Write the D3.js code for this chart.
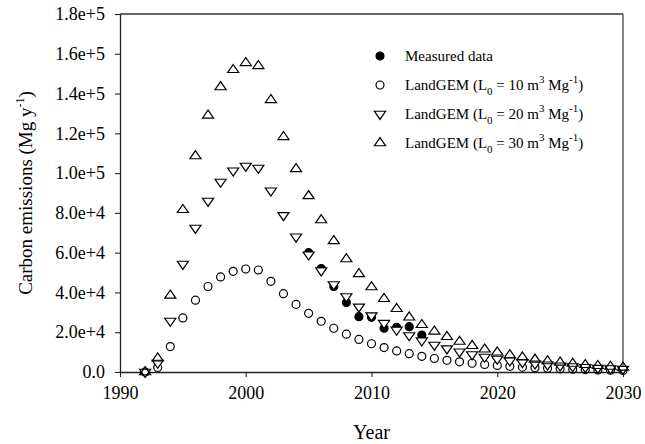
<!DOCTYPE html>
<html>
<head>
<meta charset="utf-8">
<script src="https://cdn.jsdelivr.net/npm/d3@7/dist/d3.min.js"></script>
<style>
  html, body { margin: 0; padding: 0; background: #fff; }
  svg { display: block; }
  text { font-family: "Liberation Serif", "Times New Roman", serif; fill: #000; }
</style>
</head>
<body>
<svg id="chart" width="645" height="444"></svg>
<script>
// ---- Data ----
const years = d3.range(1992, 2031); // 1992..2030

const landgem10 = [0, 2300, 12800, 27200, 36100, 43000, 47800, 50600, 51800, 51300,
  45600, 39400, 34000, 29500, 25500, 22000, 19000, 16400, 14200, 12300,
  10600, 9200, 7900, 6800, 5900, 5100, 4400, 3800, 3300, 2850,
  2450, 2100, 1850, 1600, 1400, 1200, 1000, 900, 760];

const landgem20 = [0, 4600, 25700, 54300, 72400, 86000, 95600, 101200, 103600, 102600,
  91200, 78800, 68000, 59000, 51000, 44000, 38000, 32800, 28400, 24600,
  21200, 18400, 15800, 13600, 11800, 10200, 8800, 7600, 6600, 5700,
  4900, 4200, 3700, 3200, 2800, 2400, 2000, 1800, 1500];

const landgem30 = [0, 6900, 38500, 81500, 108600, 129000, 143300, 151900, 155400, 153900,
  136800, 118200, 102100, 88500, 76400, 65900, 56800, 49300, 42700, 36800,
  31800, 27500, 23700, 20400, 17700, 15300, 13200, 11400, 9900, 8500,
  7400, 6300, 5500, 4800, 4200, 3600, 3100, 2700, 2300];

const measuredYears = [2005, 2006, 2007, 2008, 2009, 2010, 2011, 2012, 2013, 2014];
const measured = [60000, 52000, 43000, 35000, 27800, 27500, 22000, 22500, 22800, 18600];

const xTicks = [1990, 2000, 2010, 2020, 2030];
const yTicks = [0, 20000, 40000, 60000, 80000, 100000, 120000, 140000, 160000, 180000];
const yTickLabels = ["0.0", "2.0e+4", "4.0e+4", "6.0e+4", "8.0e+4", "1.0e+5", "1.2e+5", "1.4e+5", "1.6e+5", "1.8e+5"];

// ---- Layout ----
const L = 120, R = 623, T = 14, B = 372;
const svg = d3.select("#chart");

const x = d3.scaleLinear().domain([1990, 2030]).range([L, R]);
const y = d3.scaleLinear().domain([0, 180000]).range([B, T]);

const axisColor = "#222";

// frame (top & right)
svg.append("line").attr("x1", L).attr("x2", R).attr("y1", T).attr("y2", T)
  .attr("stroke", "#333").attr("stroke-width", 1.3);
svg.append("line").attr("x1", R).attr("x2", R).attr("y1", T).attr("y2", B)
  .attr("stroke", "#444").attr("stroke-width", 1.3);

// axes
const xAxis = d3.axisBottom(x).tickValues(xTicks).tickFormat(d3.format("d"))
  .tickSizeInner(5).tickSizeOuter(0).tickPadding(9);
const gx = svg.append("g").attr("transform", `translate(0,${B})`).call(xAxis);
gx.select(".domain").attr("stroke", axisColor).attr("stroke-width", 1.3);
gx.selectAll(".tick line").attr("stroke", axisColor).attr("stroke-width", 1.1);
gx.selectAll(".tick text").attr("font-family", "Liberation Serif").attr("font-size", 18).attr("fill", "#000");

const yAxis = d3.axisLeft(y).tickValues(yTicks).tickFormat((d, i) => yTickLabels[i])
  .tickSizeInner(5).tickSizeOuter(0).tickPadding(10);
const gy = svg.append("g").attr("transform", `translate(${L},0)`).call(yAxis);
gy.select(".domain").attr("stroke", axisColor).attr("stroke-width", 1.3);
gy.selectAll(".tick line").attr("stroke", axisColor).attr("stroke-width", 1.1);
gy.selectAll(".tick text").attr("font-family", "Liberation Serif").attr("font-size", 18).attr("fill", "#000");

// axis titles
svg.append("text").attr("x", (L + R) / 2).attr("y", 439).attr("text-anchor", "middle")
  .attr("font-size", 20).text("Year");

const yt = svg.append("text").attr("transform", `translate(32,${(T + B) / 2}) rotate(-90)`)
  .attr("text-anchor", "middle").attr("font-size", 19);
yt.append("tspan").text("Carbon emissions (Mg y");
yt.append("tspan").attr("font-size", 12).attr("dy", -8).text("-1");
yt.append("tspan").attr("dy", 8).text(")");

// ---- Markers ----
const triSize = 46;
const sym = {
  tri: d3.symbol().type(d3.symbolTriangle).size(triSize),
  circle: d3.symbol().type(d3.symbolCircle).size(50)
};
const triScale = "scale(1.08,0.9)";
const sw = 1.2;

const plot = svg.append("g");

// measured (filled)
plot.selectAll("path.meas").data(measuredYears.map((yr, i) => [yr, measured[i]]))
  .join("path").attr("class", "meas")
  .attr("d", sym.circle)
  .attr("transform", d => `translate(${x(d[0])},${y(d[1])})`)
  .attr("fill", "#000").attr("stroke", "#000").attr("stroke-width", sw);

// L0 = 10 circles
plot.selectAll("path.l10").data(years.map((yr, i) => [yr, landgem10[i]]))
  .join("path").attr("class", "l10")
  .attr("d", sym.circle)
  .attr("transform", d => `translate(${x(d[0])},${y(d[1])})`)
  .attr("fill", "none").attr("stroke", "#000").attr("stroke-width", sw);

// L0 = 20 down triangles (white fill)
plot.selectAll("path.l20").data(years.map((yr, i) => [yr, landgem20[i]]))
  .join("path").attr("class", "l20")
  .attr("d", sym.tri)
  .attr("transform", d => `translate(${x(d[0])},${y(d[1])}) rotate(180) ${triScale}`)
  .attr("fill", "#fff").attr("stroke", "#000").attr("stroke-width", sw);

// L0 = 30 up triangles
plot.selectAll("path.l30").data(years.map((yr, i) => [yr, landgem30[i]]))
  .join("path").attr("class", "l30")
  .attr("d", sym.tri)
  .attr("transform", d => `translate(${x(d[0])},${y(d[1])}) ${triScale}`)
  .attr("fill", "none").attr("stroke", "#000").attr("stroke-width", sw);

// ---- Legend ----
const legendKinds = ["meas", "circle", "down", "up"];
const legendL0 = [null, "10", "20", "30"];
const legY = [56, 85, 114, 143];
const legX = 380, legTX = 405;
const lg = svg.append("g");
legendKinds.forEach((kind, i) => {
  const cy = legY[i];
  const p = lg.append("path").attr("stroke", "#000").attr("stroke-width", sw);
  if (kind === "meas") {
    p.attr("d", sym.circle).attr("fill", "#000").attr("transform", `translate(${legX},${cy})`);
  } else if (kind === "circle") {
    p.attr("d", sym.circle).attr("fill", "none").attr("transform", `translate(${legX},${cy})`);
  } else if (kind === "down") {
    p.attr("d", sym.tri).attr("fill", "none").attr("transform", `translate(${legX},${cy}) rotate(180) ${triScale}`);
  } else {
    p.attr("d", sym.tri).attr("fill", "none").attr("transform", `translate(${legX},${cy}) ${triScale}`);
  }
  const t = lg.append("text").attr("x", legTX).attr("y", cy + 5).attr("font-size", 15);
  if (kind === "meas") {
    t.text("Measured data");
  } else {
    t.append("tspan").text("LandGEM (L");
    t.append("tspan").attr("font-size", 11).attr("dy", 5).text("0");
    t.append("tspan").attr("dy", -5).text(" = " + legendL0[i] + " m");
    t.append("tspan").attr("font-size", 11).attr("dy", -7).text("3");
    t.append("tspan").attr("dy", 7).text(" Mg");
    t.append("tspan").attr("font-size", 11).attr("dy", -7).text("-1");
    t.append("tspan").attr("dy", 7).text(")");
  }
});
</script>
</body>
</html>
